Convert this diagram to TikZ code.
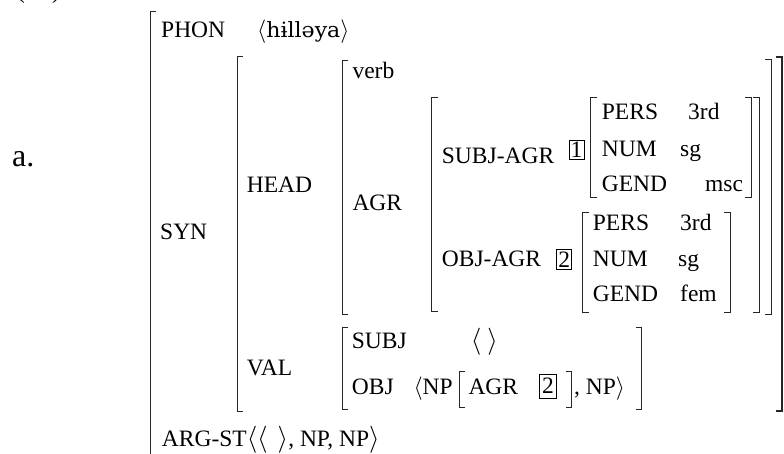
\RequirePackage{fix-cm}
\documentclass[tikz,border=0pt]{standalone}
\usepackage{fontspec}
\setmainfont{Liberation Serif}
\newfontfamily\ipafont{DejaVu Serif}[FakeStretch=1.05]
\usetikzlibrary{positioning}
\newcommand{\avmsize}{\fontsize{23.5}{28}\selectfont}
\newcommand{\bigang}[1]{{\fontsize{27}{30}\selectfont$#1$}}
\tikzset{
	feat/.style={anchor=base west, inner sep=0pt, font=\avmsize},
	tag/.style={draw, line width=.8pt, inner sep=0pt, minimum width=15pt,
		minimum height=19.5pt, font=\avmsize},
	brak/.style={draw=black!85, line width=1pt},
	thickbrak/.style={draw=black!85, line width=1.8pt},
}
\begin{document}
\begin{tikzpicture}[x=1pt, y=-1pt]
		\useasboundingbox (0,0) rectangle (784,454);
		\node[feat] (exnum) at (17,-1.5) {(\hspace{27pt})};
		\node[feat, font=\fontsize{32}{36}\selectfont] (ex) at (12,167) {a.};
		% left brackets: x / top / bottom
		\foreach \x/\t/\b in {150/11.7/470, 237/57/411.5, 342.3/60.5/314, 431.7/97.7/311,
			590.7/97.7/198, 582.7/212.7/312.7, 342.3/327.3/409, 459.3/371.7/407.3}
			\draw[brak] (\x+6,\t) -- (\x,\t) -- (\x,\b) -- (\x+6,\b);
		% right brackets
		\foreach \x/\t/\b in {771/59.5/314, 759/97.7/312, 751/97.7/198, 730/212.7/312.7,
			641.7/327.3/409, 571.7/371.7/407.3}
			\draw[brak] (\x-6,\t) -- (\x,\t) -- (\x,\b) -- (\x-6,\b);
		\draw[thickbrak] (775.5,57) -- (781.7,57) -- (781.7,411) -- (775.5,411);
		\node[feat] (phon) at (161,37.3) {PHON};
		\node[feat] (phonval) at (257,37.3) {$\langle${\ipafont\fontsize{21}{25}\selectfont hɨlləya}$\rangle$};
		\node[feat] (syn) at (160,240) {SYN};
		\node[feat] (argst) at (161.7,446) {ARG-ST\bigang{\langle\langle}\hspace{10pt}\bigang{\rangle}, NP, NP\bigang{\rangle}};
		\node[feat] (head) at (246.7,192.7) {HEAD};
		\node[feat] (val) at (246.7,375) {VAL};
		\node[feat] (verb) at (352.3,79) {verb};
		\node[feat] (agr) at (352.3,210.7) {AGR};
		\node[feat] (subjagr) at (441.7,164) {SUBJ-AGR};
		\node[tag] (tagA) at (576.5,149.7) {1};
		\node[feat] (sPers) at (601.7,119.5) {PERS};
		\node[feat] (sPersV) at (688,119.5) {3rd};
		\node[feat] (sNum) at (601.7,156.7) {NUM};
		\node[feat] (sNumV) at (680,156.7) {sg};
		\node[feat] (sGend) at (601.7,191.7) {GEND};
		\node[feat] (sGendV) at (705,191.7) {msc};
		\node[feat] (objagr) at (441.7,266.7) {OBJ-AGR};
		\node[tag] (tagB) at (564.2,259.5) {2};
		\node[feat] (oPers) at (592.7,230.7) {PERS};
		\node[feat] (oPersV) at (680,230.7) {3rd};
		\node[feat] (oNum) at (592.7,266.7) {NUM};
		\node[feat] (oNumV) at (678,266.7) {sg};
		\node[feat] (oGend) at (592.7,301.7) {GEND};
		\node[feat] (oGendV) at (680,301.7) {fem};
		\node[feat] (subj) at (351.7,348.3) {SUBJ};
		\node[feat] (subjval) at (470.7,348.3) {\bigang{\langle}\hspace{6pt}\bigang{\rangle}};
		\node[feat] (obj) at (351.7,394) {OBJ};
		\node[feat] (objnp) at (413.3,394) {$\langle$NP};
		\node[feat] (npagr) at (468.3,394) {AGR};
		\node[tag, minimum width=17pt, minimum height=24pt] (tagC) at (548,386) {2};
		\node[feat] (objrest) at (574,394) {, NP$\rangle$};
\end{tikzpicture}
\end{document}
